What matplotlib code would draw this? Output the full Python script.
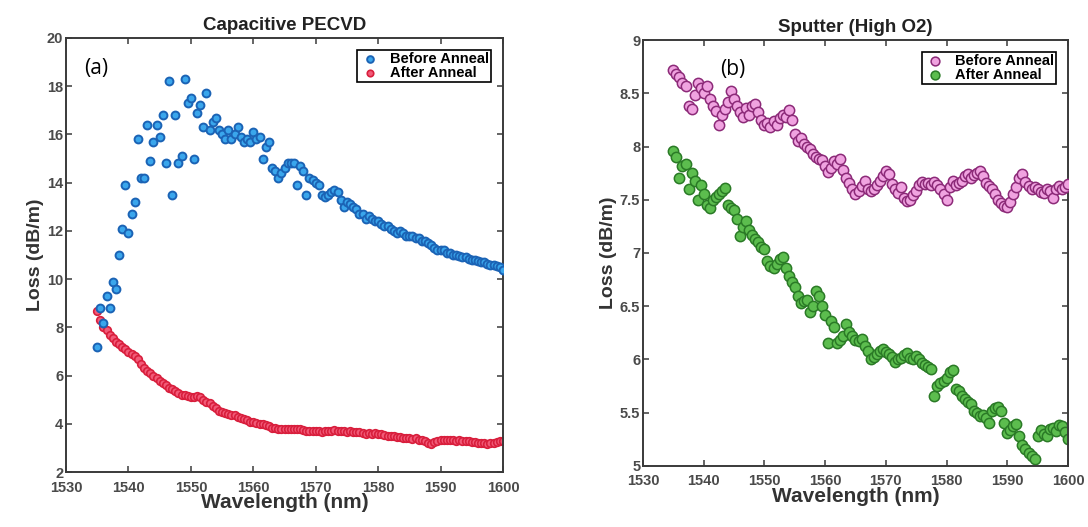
import numpy as np
import matplotlib
matplotlib.use("Agg")
import matplotlib.pyplot as plt

# Capacitive PECVD (panel a), sampled every 0.5 nm from 1535 to 1600 nm
pecvd_before = [
    7.2, 8.8, 8.2, 9.3, 8.8, 9.9, 9.6, 11.0, 12.1, 13.9,
    11.9, 12.7, 13.2, 15.8, 14.2, 14.2, 16.4, 14.9, 15.7, 16.4,
    15.9, 16.8, 14.8, 18.2, 13.5, 16.8, 14.8, 15.1, 18.3, 17.3,
    17.5, 15.0, 16.9, 17.2, 16.3, 17.7, 16.2, 16.5, 16.7, 16.2,
    16.0, 15.8, 16.2, 15.8, 16.0, 16.3, 15.9, 15.7, 15.8, 15.7,
    16.1, 15.8, 15.9, 15.0, 15.5, 15.7, 14.6, 14.5, 14.2, 14.4,
    14.6, 14.8, 14.8, 14.8, 13.9, 14.7, 14.5, 13.5, 14.2, 14.1,
    14.0, 13.9, 13.5, 13.4, 13.5, 13.6, 13.7, 13.6, 13.3, 13.0,
    13.2, 13.1, 13.0, 12.9, 12.7, 12.7, 12.5, 12.6, 12.5, 12.4,
    12.4, 12.3, 12.2, 12.2, 12.1, 12.0, 11.9, 12.0, 11.9, 11.8,
    11.8, 11.8, 11.7, 11.7, 11.6, 11.6, 11.5, 11.4, 11.3, 11.2,
    11.2, 11.2, 11.1, 11.1, 11.0, 11.0, 10.95, 10.9, 10.9, 10.85,
    10.8, 10.8, 10.75, 10.7, 10.7, 10.65, 10.6, 10.6, 10.55, 10.5,
    10.4,
]
pecvd_after = [
    8.7, 8.3, 8.0, 7.9, 7.7, 7.55, 7.4, 7.3, 7.2, 7.1,
    7.0, 6.9, 6.8, 6.7, 6.5, 6.3, 6.2, 6.1, 6.0, 5.9,
    5.8, 5.7, 5.6, 5.5, 5.45, 5.35, 5.3, 5.2, 5.2, 5.15,
    5.1, 5.1, 5.15, 5.1, 5.0, 4.9, 4.85, 4.75, 4.65, 4.55,
    4.5, 4.45, 4.4, 4.35, 4.35, 4.3, 4.25, 4.2, 4.15, 4.1,
    4.1, 4.05, 4.0, 4.0, 3.95, 3.9, 3.85, 3.85, 3.8, 3.8,
    3.8, 3.8, 3.78, 3.8, 3.78, 3.8, 3.75, 3.72, 3.7, 3.7,
    3.72, 3.7, 3.68, 3.7, 3.7, 3.72, 3.75, 3.72, 3.7, 3.72,
    3.68, 3.7, 3.66, 3.68, 3.65, 3.62, 3.6, 3.62, 3.6, 3.62,
    3.6, 3.58, 3.55, 3.5, 3.5, 3.48, 3.45, 3.45, 3.42, 3.4,
    3.42, 3.38, 3.4, 3.35, 3.35, 3.3, 3.22, 3.18, 3.25, 3.3,
    3.32, 3.35, 3.33, 3.35, 3.32, 3.3, 3.33, 3.3, 3.28, 3.3,
    3.25, 3.25, 3.22, 3.2, 3.2, 3.18, 3.2, 3.22, 3.25, 3.3,
    3.3,
]

# Sputter, high O2 (panel b), same sampling
sputter_before = [
    8.72, 8.68, 8.65, 8.6, 8.57, 8.38, 8.35, 8.48, 8.6, 8.55,
    8.5, 8.57, 8.45, 8.38, 8.33, 8.2, 8.3, 8.35, 8.42, 8.52,
    8.45, 8.38, 8.32, 8.28, 8.36, 8.3, 8.38, 8.4, 8.32, 8.25,
    8.2, 8.22, 8.18, 8.24, 8.2, 8.27, 8.3, 8.28, 8.34, 8.25,
    8.12, 8.05, 8.08, 8.02, 8.0, 7.98, 7.93, 7.9, 7.88, 7.87,
    7.82, 7.76, 7.8, 7.86, 7.84, 7.88, 7.78, 7.7, 7.66, 7.6,
    7.55, 7.58, 7.63, 7.68, 7.6, 7.58, 7.6, 7.64, 7.68, 7.72,
    7.77, 7.74, 7.65, 7.6, 7.56, 7.62, 7.52, 7.49, 7.5, 7.54,
    7.58, 7.64, 7.67, 7.65, 7.66, 7.64, 7.67, 7.64, 7.6, 7.55,
    7.5, 7.62, 7.68, 7.64, 7.66, 7.68, 7.72, 7.74, 7.7, 7.73,
    7.75, 7.77, 7.72, 7.66, 7.63, 7.6, 7.55, 7.5, 7.47, 7.44,
    7.43, 7.48, 7.55, 7.62, 7.7, 7.74, 7.67, 7.63, 7.6, 7.62,
    7.6, 7.57, 7.56, 7.6, 7.58, 7.52, 7.6, 7.63, 7.6, 7.62,
    7.65,
]
sputter_after = [
    7.96, 7.9, 7.7, 7.82, 7.84, 7.6, 7.75, 7.68, 7.5, 7.64,
    7.55, 7.45, 7.42, 7.5, 7.53, 7.55, 7.58, 7.61, 7.45, 7.42,
    7.4, 7.32, 7.16, 7.24, 7.3, 7.22, 7.17, 7.13, 7.1, 7.06,
    7.04, 6.92, 6.88, 6.86, 6.9, 6.94, 6.96, 6.86, 6.78, 6.73,
    6.68, 6.6, 6.53, 6.55, 6.56, 6.45, 6.5, 6.64, 6.6, 6.5,
    6.42, 6.15, 6.36, 6.3, 6.15, 6.18, 6.22, 6.33, 6.26, 6.22,
    6.18, 6.17, 6.19, 6.13, 6.08, 6.0, 6.02, 6.05, 6.08, 6.1,
    6.07, 6.05, 6.02, 5.98, 6.0, 6.01, 6.04, 6.06, 6.01, 6.0,
    6.03, 6.0, 5.97, 5.95, 5.93, 5.91, 5.66, 5.75, 5.78, 5.8,
    5.83, 5.88, 5.9, 5.72, 5.7, 5.66, 5.63, 5.6, 5.58, 5.52,
    5.5, 5.47, 5.48, 5.45, 5.4, 5.52, 5.54, 5.55, 5.52, 5.4,
    5.31, 5.34, 5.37, 5.39, 5.28, 5.2, 5.16, 5.12, 5.09, 5.06,
    5.28, 5.34, 5.3, 5.28, 5.35, 5.36, 5.33, 5.38, 5.37, 5.32,
    5.25,
]

x_ticks = [1530, 1540, 1550, 1560, 1570, 1580, 1590, 1600]
yticks_a = [2, 4, 6, 8, 10, 12, 14, 16, 18, 20]
yticks_b = [5, 5.5, 6, 6.5, 7, 7.5, 8, 8.5, 9]

bold = dict(family="Liberation Sans", weight="bold")
tick_color = "#4a4a4a"

fig = plt.figure(figsize=(10.88, 5.27), dpi=100)
ax_a = fig.add_axes([0.0607, 0.104, 0.4016, 0.824])
ax_b = fig.add_axes([0.591, 0.116, 0.3906, 0.808])


def style_axis(ax, yticks, ylim, title, tag, tag_pos):
    ax.set_xlim(1530, 1600)
    ax.set_ylim(*ylim)
    ax.set_xticks(x_ticks)
    ax.set_yticks(yticks)
    ax.set_yticklabels([f"{v:g}" for v in yticks])
    ax.tick_params(direction="in", top=True, right=True, length=4, width=1.2,
                   colors=tick_color, labelsize=10.5, pad=2)
    ax.tick_params(axis="x", pad=6)
    for lab in ax.get_xticklabels() + ax.get_yticklabels():
        lab.set_fontweight("bold")
        lab.set_family("Liberation Sans")
    for s in ax.spines.values():
        s.set_color("#3a3a3a")
        s.set_linewidth(1.4)
    ax.set_title(title, fontsize=13.5, color="#222222", pad=6, **bold)
    ax.set_xlabel("Wavelength (nm)", fontsize=15, color="#333333", labelpad=-1, **bold)
    ax.set_ylabel("Loss (dB/m)", fontsize=14, color="#333333", labelpad=2, **bold)
    ax.text(tag_pos[0], tag_pos[1], tag, transform=ax.transAxes, fontsize=15,
            family="Open Sans", ha="center", va="center", color="black")
    # legend: Before first, After second
    h, l = ax.get_legend_handles_labels()
    order = [l.index("Before Anneal"), l.index("After Anneal")]
    leg = ax.legend([h[i] for i in order], [l[i] for i in order], loc="upper right",
                    prop=dict(family="Liberation Sans", weight="bold", size=10.5),
                    frameon=True, fancybox=False, edgecolor="black", framealpha=1,
                    handletextpad=0.6, borderpad=0.15, labelspacing=0.0,
                    handlelength=1.5, borderaxespad=0.8, markerscale=0.85)
    leg.get_frame().set_linewidth(1.2)


wl_a = np.linspace(1535, 1600, len(pecvd_before))
wl_a2 = np.linspace(1535, 1600, len(pecvd_after))
ax_a.scatter(wl_a2, pecvd_after, s=30, facecolor="#f25a78", edgecolor="#d81e3c",
             linewidth=1.2, label="After Anneal", zorder=2)
ax_a.scatter(wl_a, pecvd_before, s=32, facecolor="#3aa6ec", edgecolor="#1b63b5",
             linewidth=1.4, label="Before Anneal", zorder=3)
style_axis(ax_a, yticks_a, (2, 20), "Capacitive PECVD", "(a)", (0.07, 0.93))

wl_b = np.linspace(1535, 1600, len(sputter_before))
wl_b2 = np.linspace(1535, 1600, len(sputter_after))
ax_b.scatter(wl_b, sputter_before, s=55, facecolor="#f0a3e0", edgecolor="#8c2a78",
             linewidth=1.1, label="Before Anneal", zorder=3)
ax_b.scatter(wl_b2, sputter_after, s=55, facecolor="#5cbd4e", edgecolor="#2a7a26",
             linewidth=1.1, label="After Anneal", zorder=2)
style_axis(ax_b, yticks_b, (5, 9), "Sputter (High O2)", "(b)", (0.21, 0.93))

fig.savefig("out.png", dpi=100)
